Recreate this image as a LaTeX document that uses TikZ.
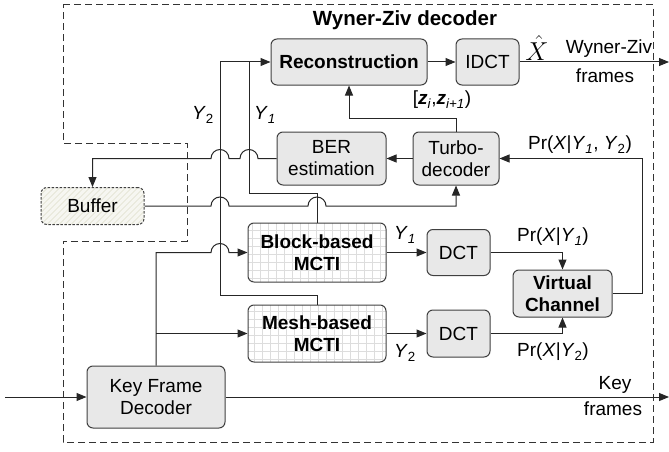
\documentclass[tikz,border=0pt]{standalone}
\usepackage{fontspec}
\setmainfont{Liberation Sans}
\usetikzlibrary{arrows.meta}
\definecolor{boxfill}{HTML}{E8E8E8}
\definecolor{boxdraw}{HTML}{404040}
\definecolor{gridcol}{HTML}{DDDDDD}
\definecolor{hatchcol}{HTML}{DEDECB}
\definecolor{buffill}{HTML}{F6F6F1}
\newcommand{\Yone}{\textit{Y}\textsubscript{\textit{1}}}
\newcommand{\Ytwo}{\textit{Y}\textsubscript{2}}
\begin{document}
\begin{tikzpicture}[x=1pt,y=-1pt,
  font=\fontsize{19}{22}\selectfont,
  box/.style={draw=boxdraw, line width=1pt, rounded corners=6pt, fill=boxfill,
    inner sep=0pt, align=center},
  gridbox/.style={box, fill=white, path picture={
    \draw[gridcol, line width=0.6pt, step=8pt]
      (path picture bounding box.south west) grid (path picture bounding box.north east);}},
  hatchbox/.style={box, dashed, dash pattern=on 2.5pt off 1.5pt, fill=buffill, path picture={
    \foreach \i in {-60,-54,...,120}
      \draw[hatchcol, line width=0.7pt, solid]
        ([xshift=\i pt]path picture bounding box.south west) -- ++(50pt,50pt);}},
  conn/.style={line width=1pt, draw=black!85},
  arr/.style={conn, -{Triangle[length=10pt,width=8pt]}},
  lbl/.style={inner sep=0pt}
]
\useasboundingbox (0,0) rectangle (669,452);

% outer dashed boundary
\draw[line width=1pt, draw=black!80, dash pattern=on 7pt off 4pt]
  (63,5) -- (653,5) -- (653,442) -- (63,442) -- (63,241) -- (187,241)
  -- (187,143) -- (63,143) -- cycle;

\node[lbl, font=\fontsize{20.5}{24}\selectfont\bfseries] (title) at (405,20) {Wyner-Ziv decoder};

% boxes
\node[box, font=\fontsize{19}{22}\selectfont\bfseries, minimum width=156pt, minimum height=46pt] (recon) at (349,62) {Reconstruction};
\node[box, minimum width=63pt, minimum height=46pt] (idct) at (487.5,62) {IDCT};
\node[box, minimum width=109pt, minimum height=53pt] (ber) at (331.5,158.5) {BER\\estimation};
\node[box, minimum width=86pt, minimum height=53pt] (turbo) at (456,158.5) {Turbo-\\decoder};
\node[hatchbox, minimum width=103pt, minimum height=37pt] (buffer) at (92.5,206) {Buffer};
\node[gridbox, font=\fontsize{19}{22}\selectfont\bfseries, minimum width=138pt, minimum height=59pt] (block) at (317,252.5) {Block-based\\MCTI};
\node[gridbox, font=\fontsize{19}{22}\selectfont\bfseries, minimum width=138pt, minimum height=57pt] (mesh) at (317,333.5) {Mesh-based\\MCTI};
\node[box, minimum width=63pt, minimum height=46pt] (dct1) at (458.5,252.5) {DCT};
\node[box, minimum width=63pt, minimum height=47pt] (dct2) at (458.5,333.5) {DCT};
\node[box, font=\fontsize{19}{22}\selectfont\bfseries, minimum width=99pt, minimum height=47pt] (vc) at (562.5,293.5) {Virtual\\Channel};
\node[box, minimum width=138pt, minimum height=62pt] (kfd) at (156,397) {Key Frame\\Decoder};

% free ends
\coordinate (wzout) at (669,62);
\coordinate (kin) at (5,397);
\coordinate (kout) at (669,397);

% connectors
\draw[arr] (recon.east) -- (idct.west);
\draw[arr] (idct.east) -- (wzout);
\draw[arr] (turbo.north) -- (456,118) -- (349,118) -- (recon.south);
\draw[arr] (turbo.west) -- (ber.east);
\draw[arr] (vc.east) -- (642,293.5) -- (642,158.5) -- (turbo.east);
\draw[arr] (dct1.east) -| (vc.north);
\draw[arr] (dct2.east) -| (vc.south);
\draw[arr] (block.east) -- (dct1.west);
\draw[arr] (mesh.east) -- (dct2.west);
\draw[arr] (kin) -- (kfd.west);
\draw[arr] (kfd.east) -- (kout);
\draw[arr] (kfd.north) -- (156,252.5) -- (211,252.5)
   arc[start angle=180, end angle=360, radius=9] -- (block.west);
\draw[arr] (156,333.5) -- (mesh.west);
\draw[arr] (ber.west) -- (258,158.5) arc[start angle=0, end angle=-180, radius=9]
   -- (229,158.5) arc[start angle=0, end angle=-180, radius=9]
   -- (92.5,158.5) -- (buffer.north);
\draw[arr] (buffer.east) -- (211,206) arc[start angle=180, end angle=360, radius=9]
   -- (308,206) arc[start angle=180, end angle=360, radius=9]
   -- (456,206) -- (turbo.south);
\draw[arr] (block.north) -- (317,193) -- (249,193) -- (249,62) -- (recon.west);
\draw[conn] (mesh.north) -- (317,295) -- (220,295) -- (220,62) -- (249,62);

% labels
\node[lbl] (ly2a) at (203,115) {\Ytwo};
\node[lbl] (ly1a) at (265,115) {\Yone};
\node[lbl] (lz) at (442,100) {[\textbf{\textit{z}}\textsubscript{\textit{i}},\textbf{\textit{z}}\textsubscript{\textit{i+1}})};
\node[lbl] (lp12) at (580,145) {Pr(\textit{X}|\Yone, \Ytwo)};
\node[lbl] (lp1) at (553,237) {Pr(\textit{X}|\Yone)};
\node[lbl] (lp2) at (553,352) {Pr(\textit{X}|\Ytwo)};
\node[lbl] (ly1b) at (405,235) {\Yone};
\node[lbl] (ly2b) at (405,353) {\Ytwo};
\node[lbl] (lxh) at (537,48) {\scalebox{1.5}{$\hat{X}$}};
\node[lbl] (lwz) at (609,49) {Wyner-Ziv};
\node[lbl] (lwzf) at (605,76) {frames};
\node[lbl] (lkey) at (615,385) {Key};
\node[lbl] (lkeyf) at (613,409) {frames};
\end{tikzpicture}
\end{document}
